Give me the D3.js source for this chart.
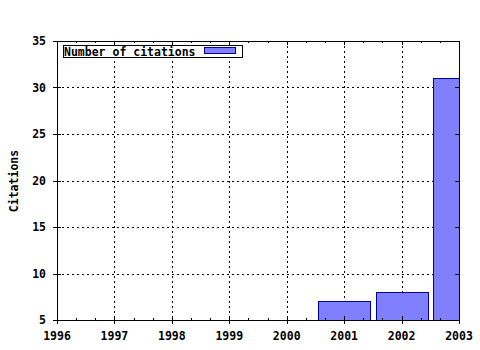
<!DOCTYPE html>
<html>
<head>
<meta charset="utf-8">
<script src="https://cdn.jsdelivr.net/npm/d3@7"></script>
<style>
  body { margin: 0; background: #fff; }
  text { font-family: "DejaVu Sans Mono", monospace; font-weight: bold; font-size: 11.5px; fill: #000; }
</style>
</head>
<body>
<div id="chart"></div>
<script>
// data
const years = [2001, 2002, 2003];
const citations = [7, 8, 31];
const xTicks = [1996, 1997, 1998, 1999, 2000, 2001, 2002, 2003];
const yTicks = [5, 10, 15, 20, 25, 30, 35];
const seriesName = "Number of citations";

const margin = { top: 41, right: 21, bottom: 30, left: 57 };
const width = 480 - margin.left - margin.right;
const height = 350 - margin.top - margin.bottom;

const svg = d3.select("#chart")
    .append("svg")
    .attr("width", 480)
    .attr("height", 350);

const g = svg.append("g")
    .attr("transform", `translate(${margin.left},${margin.top})`);

const x = d3.scaleLinear().domain([1996, 2003]).range([0, width]);
const y = d3.scaleLinear().domain([5, 35]).range([height, 0]);

g.append("clipPath").attr("id", "clip")
    .append("rect").attr("width", width).attr("height", height);

// grid
g.selectAll(".vgrid")
    .data(xTicks.slice(1, -1))
    .join("line")
    .attr("x1", d => Math.round(x(d)) + 0.5)
    .attr("x2", d => Math.round(x(d)) + 0.5)
    .attr("y1", 0).attr("y2", height)
    .attr("stroke", "#000").attr("stroke-width", 1)
    .attr("stroke-dasharray", "2,3");

g.selectAll(".hgrid")
    .data(yTicks.slice(1, -1))
    .join("line")
    .attr("y1", d => Math.round(y(d)) + 0.5)
    .attr("y2", d => Math.round(y(d)) + 0.5)
    .attr("x1", 0).attr("x2", width)
    .attr("stroke", "#000").attr("stroke-width", 1)
    .attr("stroke-dasharray", "2,3");

// bars
const bw = x(1996.9) - x(1996);
g.append("g").attr("clip-path", "url(#clip)")
    .selectAll("rect")
    .data(years.map((yr, i) => ({ yr, v: citations[i] })))
    .join("rect")
    .attr("x", d => Math.round(x(d.yr) - bw / 2) + 0.5)
    .attr("y", d => Math.round(y(d.v)) + 0.5)
    .attr("width", Math.round(bw))
    .attr("height", d => Math.round(height - y(d.v)) + 1)
    .attr("fill", "#8080ff")
    .attr("stroke", "#0000a0")
    .attr("stroke-width", 1);

// frame
g.append("rect")
    .attr("x", 0.5).attr("y", 0.5)
    .attr("width", Math.round(width)).attr("height", Math.round(height))
    .attr("fill", "none").attr("stroke", "#000").attr("stroke-width", 1);

// ticks
const minor = [];
xTicks.slice(0, -1).forEach(t => { minor.push(t + 1 / 3, t + 2 / 3); });

xTicks.forEach(t => {
    const px = Math.round(x(t)) + 0.5;
    g.append("line").attr("x1", px).attr("x2", px).attr("y1", height - 4).attr("y2", height + 4).attr("stroke", "#000");
    g.append("line").attr("x1", px).attr("x2", px).attr("y1", 0).attr("y2", 4).attr("stroke", "#000");
});
minor.forEach(t => {
    const px = Math.round(x(t)) + 0.5;
    g.append("line").attr("x1", px).attr("x2", px).attr("y1", height - 2).attr("y2", height + 1).attr("stroke", "#000");
    g.append("line").attr("x1", px).attr("x2", px).attr("y1", 0).attr("y2", 2).attr("stroke", "#000");
});
yTicks.forEach(t => {
    const py = Math.round(y(t)) + 0.5;
    g.append("line").attr("y1", py).attr("y2", py).attr("x1", -4).attr("x2", 4).attr("stroke", "#000");
    g.append("line").attr("y1", py).attr("y2", py).attr("x1", width - 4).attr("x2", width).attr("stroke", "#000");
});

// tick labels
g.selectAll(".xl")
    .data(xTicks)
    .join("text")
    .attr("x", d => x(d))
    .attr("y", height + 20)
    .attr("text-anchor", "middle")
    .text(d => d);

g.selectAll(".yl")
    .data(yTicks)
    .join("text")
    .attr("x", -11)
    .attr("y", d => y(d) + 4)
    .attr("text-anchor", "end")
    .text(d => d);

// axis title
svg.append("text")
    .attr("transform", "rotate(-90)")
    .attr("x", -181)
    .attr("y", 18)
    .attr("text-anchor", "middle")
    .text("Citations");

// legend
const legend = g.append("g").attr("transform", "translate(6,4)");
legend.append("rect")
    .attr("x", 0.5).attr("y", 0.5)
    .attr("width", 179).attr("height", 12)
    .attr("fill", "#fff").attr("stroke", "#000");
legend.append("text")
    .attr("x", 1).attr("y", 10.5)
    .text(seriesName);
legend.append("rect")
    .attr("x", 141.5).attr("y", 2.5)
    .attr("width", 31).attr("height", 6)
    .attr("fill", "#8080ff").attr("stroke", "#0000a0");
</script>
</body>
</html>
